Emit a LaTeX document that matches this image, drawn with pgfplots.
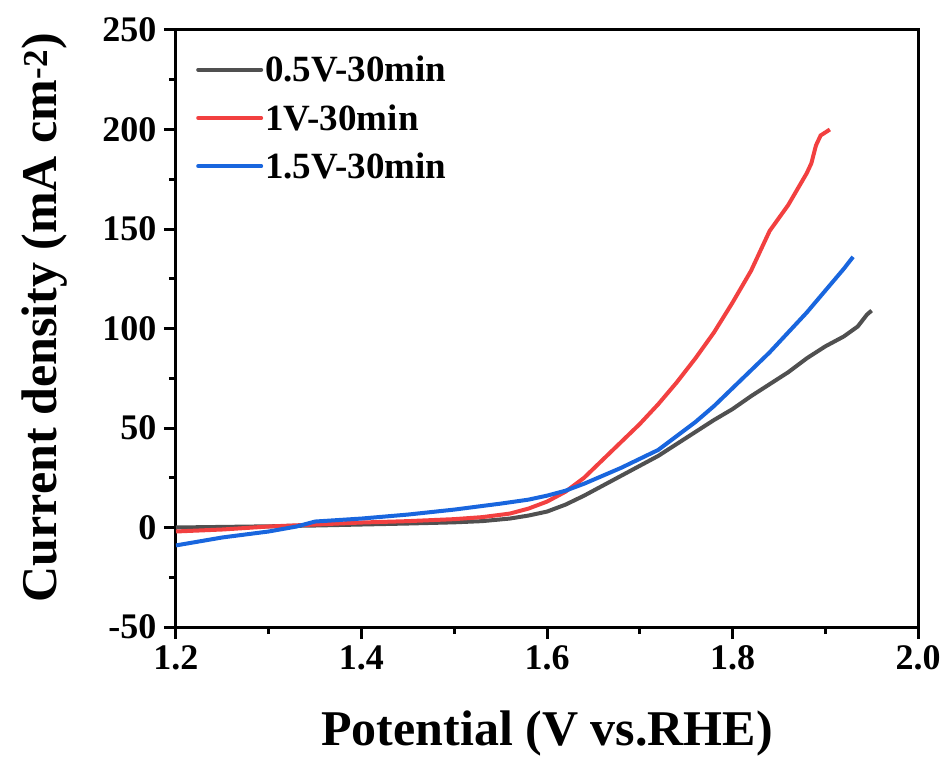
\documentclass[border=0pt]{standalone}
\usepackage{pgfplots}
\pgfplotsset{compat=1.18}
\usepackage{fontspec}
\setmainfont{Liberation Serif}
\definecolor{cgray}{RGB}{80,80,80}
\definecolor{cred}{RGB}{242,64,64}
\definecolor{cblue}{RGB}{25,102,222}
\begin{document}
\begin{tikzpicture}
\begin{axis}[
  scale only axis, width=742pt, height=597pt,
  xmin=1.2, xmax=2.0, ymin=-50, ymax=250,
  xtick={1.2,1.4,1.6,1.8,2.0}, minor xtick={1.3,1.5,1.7,1.9},
  ytick={-50,0,50,100,150,200,250}, minor ytick={-25,25,75,125,175,225},
  xticklabel style={yshift=-3pt, /pgf/number format/.cd, fixed, fixed zerofill, precision=1},
  yticklabel style={xshift=-4pt},
  /pgf/number format/assume math mode=true,
  xtick pos=bottom, ytick pos=left,
  tick align=outside,
  major tick length=12pt, minor tick length=7pt,
  every tick/.style={black, line width=3pt},
  axis line style={line width=3pt},
  font=\bfseries\fontsize{36}{40}\selectfont,
  xlabel={\fontsize{50}{56}\selectfont Potential (V vs.RHE)},
  ylabel={\fontsize{50}{56}\selectfont Current density (mA cm\textsuperscript{-2})},
  xlabel style={at={(axis description cs:0.5,-0.1977)}, anchor=base, inner sep=0pt},
  ylabel style={at={(axis description cs:-0.1604,0.518)}, anchor=base, inner sep=0pt},
  legend style={at={(axis description cs:0,1)}, anchor=north west, xshift=20pt, yshift=-24pt,
    draw=none, fill=none, inner sep=0pt,
    font=\bfseries\fontsize{37}{42}\selectfont, row sep=17pt},
  legend cell align=left,
  legend image code/.code={\draw[#1, line cap=round] (0pt,0pt) -- (63pt,0pt);},
]
\addplot[cgray, line width=4pt] coordinates {
(1.20,0.0) (1.25,0.3) (1.30,0.6) (1.35,1.0) (1.40,1.5) (1.45,2.0) (1.50,2.6)
(1.53,3.2) (1.56,4.5) (1.58,6.0) (1.60,8.0) (1.62,11.5) (1.64,16) (1.66,21)
(1.68,26) (1.70,31) (1.72,36) (1.74,42) (1.76,48) (1.78,54) (1.80,59.5)
(1.82,66) (1.84,72) (1.86,78) (1.88,85) (1.90,91) (1.92,96) (1.935,101)
(1.945,107) (1.95,109)
};
\addlegendentry{0.5V-30min}
\addplot[cred, line width=4pt] coordinates {
(1.20,-2) (1.25,-1) (1.30,0.5) (1.35,1.5) (1.40,2.5) (1.45,3.2) (1.50,4.2)
(1.53,5.2) (1.56,7) (1.58,9.5) (1.60,13) (1.62,18) (1.64,25) (1.66,34)
(1.68,43) (1.70,52) (1.72,62) (1.74,73) (1.76,85) (1.78,98) (1.80,113)
(1.82,129) (1.84,149) (1.86,162) (1.87,170) (1.88,178) (1.885,183) (1.89,192)
(1.895,197) (1.905,200)
};
\addlegendentry{1V-30min}
\addplot[cblue, line width=4pt] coordinates {
(1.20,-9) (1.25,-5) (1.30,-2) (1.33,0.5) (1.35,3) (1.40,4.5) (1.45,6.5)
(1.50,9) (1.55,12) (1.58,14) (1.60,16) (1.62,18.5) (1.64,22) (1.66,26)
(1.68,30) (1.70,34.5) (1.72,39) (1.74,46) (1.76,53) (1.78,61) (1.80,70)
(1.82,79) (1.84,88) (1.86,98) (1.88,108) (1.90,119) (1.92,130) (1.93,136)
};
\addlegendentry{1.5V-30min}
\end{axis}
\pgfresetboundingbox
\path ([xshift=-176pt,yshift=-131pt]current axis.south west) rectangle ([xshift=26pt,yshift=30pt]current axis.north east);
\end{tikzpicture}
\end{document}
